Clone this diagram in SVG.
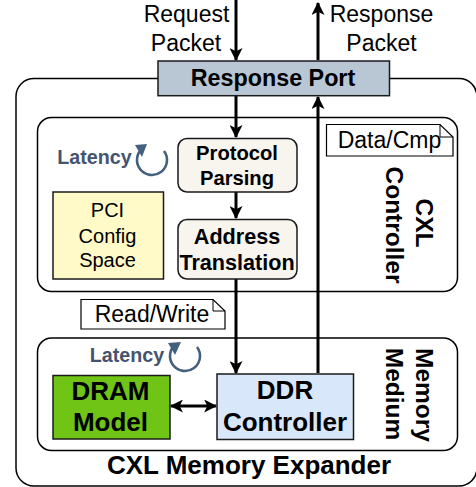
<svg xmlns="http://www.w3.org/2000/svg" width="476" height="487" viewBox="0 0 476 487">
<style>
text{font-family:"Liberation Sans",Arial,sans-serif;fill:#000;text-anchor:middle}
.r{font-size:23px}
.pci{font-size:20px}
.b{font-weight:bold;font-size:21.600px}
.p{font-weight:bold;font-size:20.200px}
.port{font-weight:bold;font-size:23.300px}
.v{font-weight:bold;font-size:24.500px}
.big{font-weight:bold;font-size:26px}
.lat{font-weight:bold;font-size:19.700px;fill:#44546f}
.box{stroke:#1a1a1a;stroke-width:1.500}
.line{fill:none;stroke:#000;stroke-width:3}
.loop{fill:none;stroke:#44607f;stroke-width:2.600}
.frame{fill:#fff;stroke:#000;stroke-width:1.500}
.note{fill:#fff;stroke:#000;stroke-width:1.200}
.fold{fill:none;stroke:#000;stroke-width:1}
</style>
<defs>
<marker id="a" markerUnits="userSpaceOnUse" markerWidth="13" markerHeight="13" refX="11" refY="6" orient="auto-start-reverse" viewBox="0 0 12 12"><path d="M0 0L12 6L0 12L3 6Z" fill="#000"/></marker>
</defs>
<g id="expander"><rect x="16" y="78.500" width="461" height="407.500" rx="18" class="frame"/><text x="249" y="474" class="big">CXL Memory Expander</text></g>
<g id="cxl-controller"><rect x="37.500" y="117.500" width="420" height="174" rx="14" class="frame"/><text transform="translate(416 223) rotate(90)" class="v">CXL</text><text transform="translate(386 225) rotate(90)" class="v">Controller</text></g>
<g id="memory-medium"><rect x="37.500" y="338" width="420" height="112.500" rx="14" class="frame"/><text transform="translate(416 395) rotate(90)" class="v">Memory</text><text transform="translate(386 394) rotate(90)" class="v">Medium</text></g>
<g id="connectors">
<path class="line" d="M236 0V60" marker-end="url(#a)"/>
<path class="line" d="M236 96V137" marker-end="url(#a)"/>
<path class="line" d="M236 192V218" marker-end="url(#a)"/>
<path class="line" d="M236 279V373" marker-end="url(#a)"/>
<path class="line" d="M318 373V97" marker-end="url(#a)"/>
<path class="line" d="M318 60V3" marker-end="url(#a)"/>
<path class="line" d="M171 406H216" marker-start="url(#a)" marker-end="url(#a)"/>
</g>
<g id="request-label"><text x="186.500" y="22" class="r">Request</text><text x="186" y="50.500" class="r">Packet</text></g>
<g id="response-label"><text x="381.500" y="22" class="r">Response</text><text x="381.500" y="50.500" class="r">Packet</text></g>
<g id="response-port"><rect x="158" y="61" width="231.500" height="34.700" fill="#b8c7d3" class="box"/><text x="273" y="86" class="port">Response Port</text></g>
<g id="latency-1"><text x="94.500" y="164" class="lat">Latency</text><path class="loop" d="M164 151A15 15 0 1 1 143 148"/><path d="M135 145L147 144L142 157Z" fill="#44607f"/></g>
<g id="pci"><rect x="53" y="192" width="110.500" height="87" fill="#fffac8" class="box"/><text x="107.500" y="217" class="pci">PCI</text><text x="107.500" y="243" class="pci">Config</text><text x="107.500" y="267" class="pci">Space</text></g>
<g id="protocol"><rect x="178" y="138.500" width="119" height="53.500" rx="9" fill="#f7f5ee" class="box"/><text x="237" y="160" class="p">Protocol</text><text x="237" y="185" class="p">Parsing</text></g>
<g id="address"><rect x="178" y="219.500" width="119" height="59.500" rx="9" fill="#f7f5ee" class="box"/><text x="237" y="244" class="b">Address</text><text x="237" y="270" class="b">Translation</text></g>
<g id="data-cmp"><path d="M326.500 124.500H440L453 137V156H326.500Z" class="note"/><path d="M440 124.500V137H453" class="fold"/><text x="389.500" y="148" class="r">Data/Cmp</text></g>
<g id="read-write"><path d="M81 299.500H213L225 311V329H81Z" class="note"/><path d="M213 299.500V311H225" class="fold"/><text x="152" y="321.500" class="r">Read/Write</text></g>
<g id="latency-2"><text x="127" y="362" class="lat">Latency</text><path class="loop" d="M197 347A15 15 0 1 1 176 344"/><path d="M168 343L181 342L175 355Z" fill="#44607f"/></g>
<g id="dram"><rect x="53" y="375.500" width="117" height="63.500" fill="#70c415" class="box"/><text x="110.500" y="400" class="big">DRAM</text><text x="110.500" y="431" class="big">Model</text></g>
<g id="ddr"><rect x="217" y="374" width="136.500" height="65.500" fill="#d8e7fa" class="box"/><text x="285" y="399" class="big">DDR</text><text x="285" y="431" class="big">Controller</text></g>
</svg>
